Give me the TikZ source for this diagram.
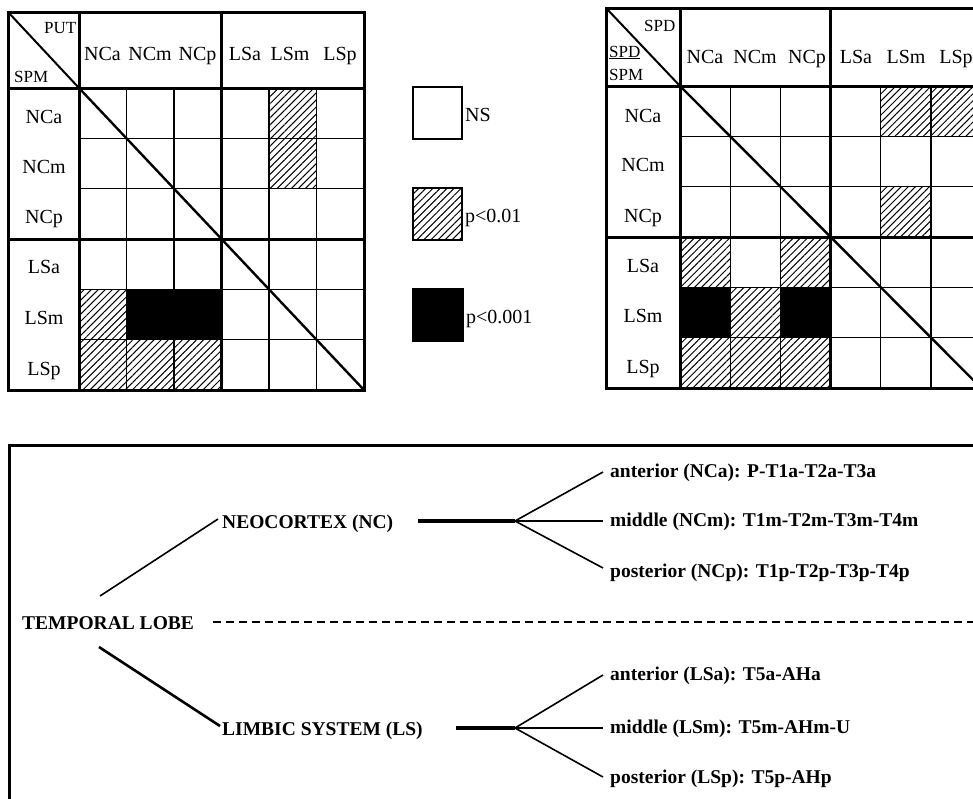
\documentclass[tikz,border=0pt]{standalone}
\usepackage{fontspec}
\setmainfont{Liberation Serif}
\usetikzlibrary{patterns.meta}
\begin{document}
\begin{tikzpicture}[x=1pt,y=-1pt,
  thickrule/.style={line width=3pt},
  thinrule/.style={line width=1.3pt},
  diagrule/.style={line width=2.4pt},
  hatch/.style={pattern={Lines[angle=45,distance=5pt,line width=1pt]}},
  solid fill/.style={fill=black},
  lbl/.style={font=\fontsize{20}{24}\selectfont, inner sep=0pt, anchor=base},
  corner/.style={font=\fontsize{17}{20}\selectfont, inner sep=0pt, anchor=base west},
  legend/.style={font=\fontsize{20}{24}\selectfont, inner sep=0pt, anchor=base west},
  tree/.style={font=\fontsize{19.5}{23}\selectfont\bfseries, inner sep=0pt, anchor=base west},
  branch/.style={line width=1.6pt},
  bar/.style={line width=4pt}]
\clip (0,0) rectangle (973,798);

% ---------------- left matrix (PUT / SPM) ----------------
% cell fills
\fill[hatch] (269,88) rectangle (316.5,138.3);
\fill[hatch] (269,138.3) rectangle (316.5,188.7);
\fill[hatch] (79,289.3) rectangle (126.5,339.7);
\fill[solid fill] (126.5,289.3) rectangle (221.5,339.7);
\fill[hatch] (79,339.7) rectangle (221.5,390);
% thin grid
\foreach \x in {126.5,174,269,316.5} \draw[thinrule] (\x,88) -- (\x,390);
\foreach \y in {138.3,188.7,289.3,339.7} \draw[thinrule] (79,\y) -- (364,\y);
% heavy rules
\draw[thickrule] (8,12) rectangle (364,390);
\draw[thickrule] (79,12) -- (79,390);
\draw[thickrule] (221.5,12) -- (221.5,390);
\draw[thickrule] (8,88) -- (364,88);
\draw[thickrule] (8,239) -- (364,239);
% diagonals
\draw[line width=2pt] (8,12) -- (79,88);
\draw[diagrule] (79,88) -- (364,390);
% labels
\node[corner] (lput) at (44,33) {PUT};
\node[corner] (lspm) at (14,82) {SPM};
\node[lbl] (lhc1) at (102.5,60) {NCa};
\node[lbl] (lhc2) at (150,60) {NCm};
\node[lbl] (lhc3) at (197.5,60) {NCp};
\node[lbl] (lhc4) at (245,60) {LSa};
\node[lbl] (lhc5) at (290,60) {LSm};
\node[lbl] (lhc6) at (340,60) {LSp};
\node[lbl] (lhr1) at (44,123) {NCa};
\node[lbl] (lhr2) at (44,173) {NCm};
\node[lbl] (lhr3) at (44,223) {NCp};
\node[lbl] (lhr4) at (44,273) {LSa};
\node[lbl] (lhr5) at (44,324) {LSm};
\node[lbl] (lhr6) at (44,375) {LSp};

% ---------------- legend ----------------
\draw[line width=1.5pt] (413,87) rectangle (462,139);
\draw[line width=1.5pt, hatch] (413,188) rectangle (462,240);
\draw[line width=1.5pt, solid fill] (413,289) rectangle (463,341);
\node[legend] (kns) at (465,121) {NS};
\node[legend] (k01) at (465,222) {p<0.01};
\node[legend] (k001) at (466,323) {p<0.001};

% ---------------- right matrix (SPD / SPM) ----------------
\fill[hatch] (880.8,86) rectangle (981.2,136.3);
\fill[hatch] (880.8,186.7) rectangle (931,237);
\fill[hatch] (680,237) rectangle (730.2,287.3);
\fill[hatch] (780.4,237) rectangle (830.6,287.3);
\fill[solid fill] (680,287.3) rectangle (730.2,337.7);
\fill[hatch] (730.2,287.3) rectangle (780.4,337.7);
\fill[solid fill] (780.4,287.3) rectangle (830.6,337.7);
\fill[hatch] (680,337.7) rectangle (830.6,388);
\foreach \x in {730.2,780.4,880.8,931} \draw[thinrule] (\x,86) -- (\x,388);
\foreach \y in {136.3,186.7,287.3,337.7} \draw[thinrule] (680,\y) -- (981.2,\y);
\draw[thickrule] (606,8) rectangle (981.2,388);
\draw[thickrule] (680,8) -- (680,388);
\draw[thickrule] (830.6,8) -- (830.6,388);
\draw[thickrule] (606,86) -- (981.2,86);
\draw[thickrule] (606,237) -- (981.2,237);
\draw[line width=2pt] (606,8) -- (680,86);
\draw[diagrule] (680,86) -- (981.2,388);
\node[corner] (rspd) at (644,31) {SPD};
\node[corner] (rspdu) at (609,57) {\underline{SPD}};
\node[corner] (rspm) at (609,80) {SPM};
\node[lbl] (rhc1) at (705,63) {NCa};
\node[lbl] (rhc2) at (755,63) {NCm};
\node[lbl] (rhc3) at (807,63) {NCp};
\node[lbl] (rhc4) at (856,63) {LSa};
\node[lbl] (rhc5) at (906,63) {LSm};
\node[lbl] (rhc6) at (956,63) {LSp};
\node[lbl] (rhr1) at (643,122) {NCa};
\node[lbl] (rhr2) at (643,171) {NCm};
\node[lbl] (rhr3) at (643,222) {NCp};
\node[lbl] (rhr4) at (643,272) {LSa};
\node[lbl] (rhr5) at (643,322) {LSm};
\node[lbl] (rhr6) at (643,373) {LSp};

% ---------------- temporal lobe tree ----------------
\draw[thickrule] (9,810) -- (9,445) -- (985,445);

\node[tree] (tl) at (22,629) {TEMPORAL LOBE};
\node[tree] (nc) at (222,528) {NEOCORTEX (NC)};
\node[tree] (ls) at (222,735) {LIMBIC SYSTEM (LS)};
\node[tree] (nca) at (610,477) {anterior (NCa): P-T1a-T2a-T3a};
\node[tree] (ncm) at (610,526) {middle (NCm): T1m-T2m-T3m-T4m};
\node[tree] (ncp) at (610,577) {posterior (NCp): T1p-T2p-T3p-T4p};
\node[tree] (lsa) at (610,680) {anterior (LSa): T5a-AHa};
\node[tree] (lsm) at (610,733) {middle (LSm): T5m-AHm-U};
\node[tree] (lsp) at (610,783) {posterior (LSp): T5p-AHp};

\coordinate (tlup) at (100,596);
\coordinate (tldn) at (99,647);
\coordinate (ncin) at (218,519);
\coordinate (lsin) at (220,726);
\coordinate (ncbar) at (418,521);
\coordinate (ncfork) at (515,521);
\coordinate (lsbar) at (456,728);
\coordinate (lsfork) at (515,728);
\coordinate (ncaend) at (603,472);
\coordinate (ncmend) at (603,521);
\coordinate (ncpend) at (603,568);
\coordinate (lsaend) at (603,675);
\coordinate (lsmend) at (603,728);
\coordinate (lspend) at (603,777);
\coordinate (dashstart) at (213,622);
\coordinate (dashend) at (980,622);

\draw[branch] (tlup) -- (ncin);
\draw[line width=2.6pt] (tldn) -- (lsin);
\draw[line width=1.5pt, dash pattern=on 8pt off 5pt] (dashstart) -- (dashend);

\draw[bar] (ncbar) -- (ncfork);
\draw[branch] (ncfork) -- (ncaend);
\draw[line width=1.1pt] (ncfork) -- (ncmend);
\draw[branch] (ncfork) -- (ncpend);

\draw[bar] (lsbar) -- (lsfork);
\draw[branch] (lsfork) -- (lsaend);
\draw[line width=1.1pt] (lsfork) -- (lsmend);
\draw[branch] (lsfork) -- (lspend);
\end{tikzpicture}
\end{document}
